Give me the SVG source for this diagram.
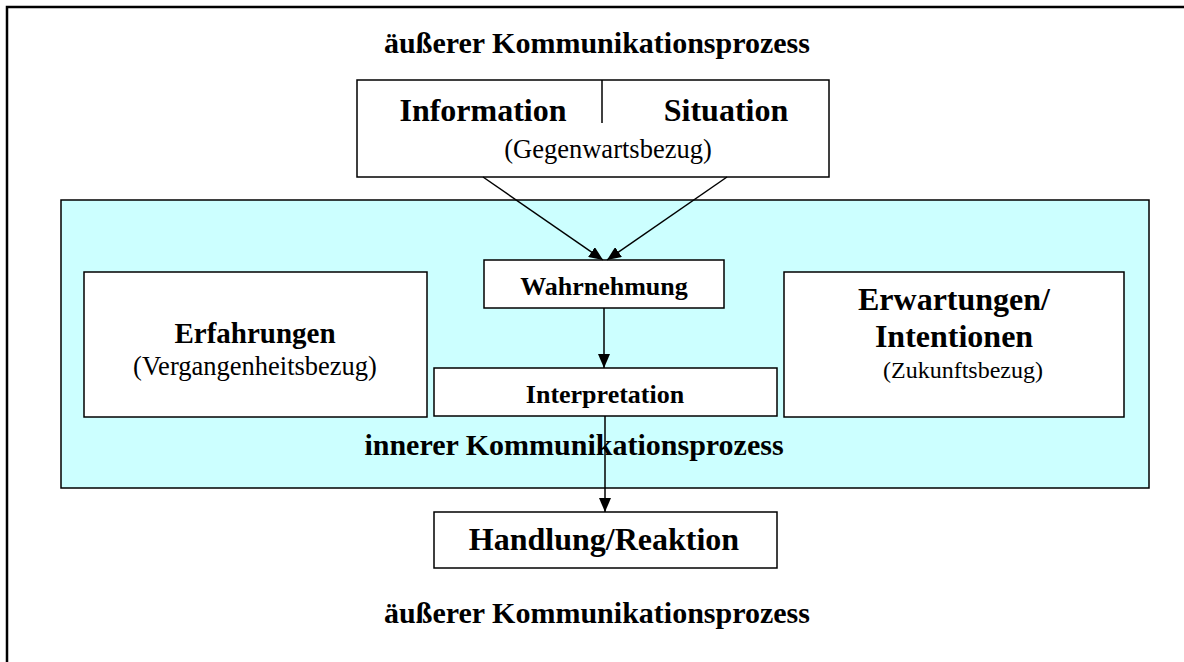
<svg xmlns="http://www.w3.org/2000/svg" width="1184" height="662" viewBox="0 0 1184 662">
  <style>
    .box { fill: #ffffff; stroke: #000000; stroke-width: 1.5; }
    .zone { fill: #ccffff; stroke: #000000; stroke-width: 1.5; }
    .edge { fill: none; stroke: #000000; stroke-width: 1.5; }
    .b { font-family: "Liberation Serif", "Times New Roman", serif; font-weight: bold; fill: #000000; text-anchor: middle; }
    .r { font-family: "Liberation Serif", "Times New Roman", serif; fill: #000000; text-anchor: middle; }
  </style>
  <defs>
    <marker id="arrow" viewBox="0 0 14 12" refX="14" refY="6" markerWidth="14" markerHeight="12" markerUnits="userSpaceOnUse" orient="auto">
      <path d="M0,0 L14,6 L0,12 Z" fill="#000000"/>
    </marker>
  </defs>

  <rect width="1184" height="662" fill="#ffffff"/>

  <!-- outer frame (open to the right and bottom) -->
  <path d="M7,662 V7 H1184" fill="none" stroke="#000000" stroke-width="2.5"/>

  <g id="outer-title-top">
    <text class="b" x="597" y="53" font-size="30">äußerer Kommunikationsprozess</text>
  </g>

  <g id="info-situation">
    <rect class="box" x="357" y="80" width="472" height="97"/>
    <line x1="602" y1="80" x2="602" y2="123" stroke="#000000" stroke-width="1.5"/>
    <text class="b" x="483" y="121" font-size="32">Information</text>
    <text class="b" x="726" y="121" font-size="32">Situation</text>
    <text class="r" x="608" y="158" font-size="26.5">(Gegenwartsbezug)</text>
  </g>

  <g id="inner-zone">
    <rect class="zone" x="61" y="200" width="1088" height="288"/>
  </g>

  <g id="erfahrungen">
    <rect class="box" x="84" y="272" width="343" height="145"/>
    <text class="b" x="255" y="343" font-size="29">Erfahrungen</text>
    <text class="r" x="255" y="375" font-size="26.5">(Vergangenheitsbezug)</text>
  </g>

  <g id="erwartungen">
    <rect class="box" x="784" y="272" width="340" height="145"/>
    <text class="b" x="954" y="310" font-size="32">Erwartungen/</text>
    <text class="b" x="954" y="347" font-size="32">Intentionen</text>
    <text class="r" x="963" y="378" font-size="24">(Zukunftsbezug)</text>
  </g>

  <g id="wahrnehmung">
    <rect class="box" x="484" y="260" width="240" height="48"/>
    <text class="b" x="604" y="295" font-size="26">Wahrnehmung</text>
  </g>

  <g id="interpretation">
    <rect class="box" x="434" y="368" width="343" height="48"/>
    <text class="b" x="605" y="403" font-size="26">Interpretation</text>
  </g>

  <g id="inner-title">
    <text class="b" x="574" y="455" font-size="30">innerer Kommunikationsprozess</text>
  </g>

  <g id="handlung">
    <rect class="box" x="434" y="512" width="343" height="56"/>
    <text class="b" x="604" y="550" font-size="32">Handlung/Reaktion</text>
  </g>

  <g id="outer-title-bottom">
    <text class="b" x="597" y="623" font-size="30">äußerer Kommunikationsprozess</text>
  </g>

  <g id="connectors">
    <line class="edge" x1="483" y1="177" x2="603" y2="260" marker-end="url(#arrow)"/>
    <line class="edge" x1="727" y1="177" x2="607" y2="260" marker-end="url(#arrow)"/>
    <line class="edge" x1="604" y1="308" x2="604" y2="368" marker-end="url(#arrow)"/>
    <line class="edge" x1="605" y1="416" x2="605" y2="512" marker-end="url(#arrow)"/>
  </g>
</svg>
